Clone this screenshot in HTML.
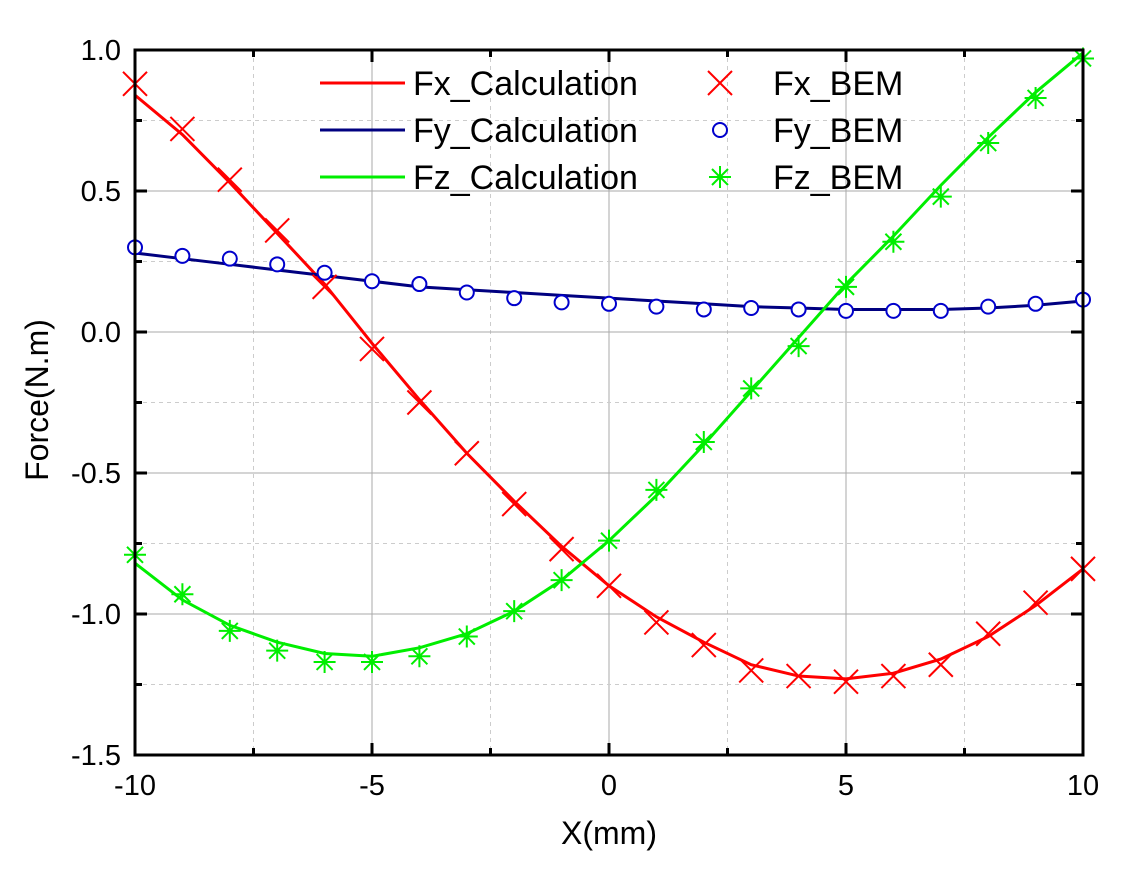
<!DOCTYPE html>
<html><head><meta charset="utf-8"><style>
body{margin:0;background:#fff}
svg{font-family:"Liberation Sans",Arial,sans-serif}
</style></head><body>
<svg id="chart" width="1139" height="891" xmlns="http://www.w3.org/2000/svg">
<g id="grid"></g>
<g id="series"></g>
<g id="axes"></g>
<g id="legend"></g>
<text x="48" y="400" font-size="32" text-anchor="middle" transform="rotate(-90 48 400)">Force(N.m)</text>
<text x="609" y="844" font-size="32" text-anchor="middle">X(mm)</text>
</svg>
<script>
const xs=[-10,-9,-8,-7,-6,-5,-4,-3,-2,-1,0,1,2,3,4,5,6,7,8,9,10];
const fxCalc=[0.84,0.70,0.53,0.35,0.17,-0.04,-0.24,-0.43,-0.60,-0.76,-0.90,-1.01,-1.10,-1.18,-1.22,-1.23,-1.21,-1.16,-1.08,-0.97,-0.84];
const fxBem=[0.88,0.72,0.54,0.36,0.16,-0.06,-0.25,-0.43,-0.61,-0.77,-0.90,-1.03,-1.11,-1.20,-1.22,-1.24,-1.22,-1.18,-1.07,-0.96,-0.84];
const fyCalc=[0.28,0.26,0.24,0.22,0.20,0.18,0.16,0.15,0.14,0.13,0.12,0.11,0.10,0.09,0.085,0.08,0.08,0.08,0.085,0.095,0.11];
const fyBem=[0.30,0.27,0.26,0.24,0.21,0.18,0.17,0.14,0.12,0.105,0.10,0.09,0.08,0.085,0.08,0.075,0.075,0.075,0.09,0.10,0.115];
const fzCalc=[-0.82,-0.95,-1.04,-1.10,-1.14,-1.15,-1.12,-1.07,-0.99,-0.88,-0.74,-0.58,-0.40,-0.21,-0.02,0.17,0.34,0.52,0.69,0.85,0.99];
const fzBem=[-0.79,-0.93,-1.06,-1.13,-1.17,-1.17,-1.15,-1.08,-0.99,-0.88,-0.74,-0.56,-0.39,-0.20,-0.05,0.16,0.32,0.48,0.67,0.83,0.97];
const xTicks=[-10,-5,0,5,10];
const yTicks=[1.0,0.5,0.0,-0.5,-1.0,-1.5];
const yTickLabels=["1.0","0.5","0.0","-0.5","-1.0","-1.5"];

const L=135,R=1083,T=50,B=755;
const X=v=>L+(v+10)/20*(R-L);
const Y=v=>T+(1-v)/2.5*(B-T);
const NS="http://www.w3.org/2000/svg";
function mk(tag,parent,attrs){const e=document.createElementNS(NS,tag);for(const k in attrs)e.setAttribute(k,attrs[k]);parent.appendChild(e);return e;}
const grid=document.getElementById('grid'),axes=document.getElementById('axes'),ser=document.getElementById('series'),leg=document.getElementById('legend');
for(let v=-7.5;v<=7.5;v+=2.5){const e=mk('line',grid,{x1:X(v),x2:X(v),y1:T,y2:B,stroke:v%5===0?'#aaa':'#ccc','stroke-width':1,'stroke-dasharray':v%5===0?'':'4,4'});

}
for(let v=-1.25;v<=0.75;v+=0.25){const major=Math.abs(v*2-Math.round(v*2))<1e-6;const e=mk('line',grid,{x1:L,x2:R,y1:Y(v),y2:Y(v),stroke:major?'#aaa':'#ccc','stroke-width':1,'stroke-dasharray':major?'':'4,4'});

}
function line(vals,color,name){const p=mk('polyline',ser,{points:xs.map((x,i)=>X(x)+','+Y(vals[i])).join(' '),fill:'none',stroke:color,'stroke-width':3});

}
line(fxCalc,'#ff0000','fx-calculation-line');
line(fyCalc,'#000080','fy-calculation-line');
line(fzCalc,'#00ee00','fz-calculation-line');
function cross(g,cx,cy,c){mk('path',g,{d:`M${cx-12},${cy-12}L${cx+12},${cy+12}M${cx-12},${cy+12}L${cx+12},${cy-12}`,stroke:c,'stroke-width':2,fill:'none'});}
function circ(g,cx,cy){mk('circle',g,{cx:cx,cy:cy,r:7,fill:'#fff',stroke:'#0000cc','stroke-width':2});}
function star(g,cx,cy,c){mk('path',g,{d:`M${cx-11},${cy}L${cx+11},${cy}M${cx},${cy-11}L${cx},${cy+11}M${cx-8},${cy-8}L${cx+8},${cy+8}M${cx-8},${cy+8}L${cx+8},${cy-8}`,stroke:c,'stroke-width':2,fill:'none'});}
xs.forEach((x,i)=>{
 let g=mk('g',ser,{});cross(g,X(x),Y(fxBem[i]),'#ff0000');
 g=mk('g',ser,{});circ(g,X(x),Y(fyBem[i]));
 g=mk('g',ser,{});star(g,X(x),Y(fzBem[i]),'#00ee00');
});
const fr=mk('rect',axes,{x:L,y:T,width:R-L,height:B-T,fill:'none',stroke:'#000','stroke-width':3});


for(let v=-10;v<=10;v+=2.5){const len=v%5===0?12:7;mk('line',axes,{x1:X(v),x2:X(v),y1:B,y2:B-len,stroke:'#000','stroke-width':3});mk('line',axes,{x1:X(v),x2:X(v),y1:T,y2:T+len,stroke:'#000','stroke-width':3});}
for(let v=-1.5;v<=1.0001;v+=0.25){const major=Math.abs(v*2-Math.round(v*2))<1e-6;const len=major?12:7;mk('line',axes,{x1:L,x2:L+len,y1:Y(v),y2:Y(v),stroke:'#000','stroke-width':3});mk('line',axes,{x1:R,x2:R-len,y1:Y(v),y2:Y(v),stroke:'#000','stroke-width':3});}
xTicks.forEach(v=>{const t=mk('text',axes,{x:X(v),y:B+40,'font-size':29,'text-anchor':'middle'});t.textContent=String(v);

});
yTicks.forEach((v,i)=>{const t=mk('text',axes,{x:L-14,y:Y(v)+10,'font-size':29,'text-anchor':'end'});t.textContent=yTickLabels[i];

});
const rows=[['Fx_Calculation','#ff0000','Fx_BEM','x'],['Fy_Calculation','#000080','Fy_BEM','o'],['Fz_Calculation','#00ee00','Fz_BEM','*']];
rows.forEach((r,i)=>{const y=83+i*47;
 const g=mk('g',leg,{});
 mk('line',g,{x1:320,x2:405,y1:y,y2:y,stroke:r[1],'stroke-width':3});
 const t=mk('text',g,{x:413,y:y+12,'font-size':34});t.textContent=r[0];
 const g2=mk('g',leg,{});
 if(r[3]==='x')cross(g2,720,y,'#ff0000');else if(r[3]==='o')circ(g2,720,y);else star(g2,720,y,'#00ee00');
 const t2=mk('text',g2,{x:773,y:y+12,'font-size':34});t2.textContent=r[2];
});
</script>
</body></html>
